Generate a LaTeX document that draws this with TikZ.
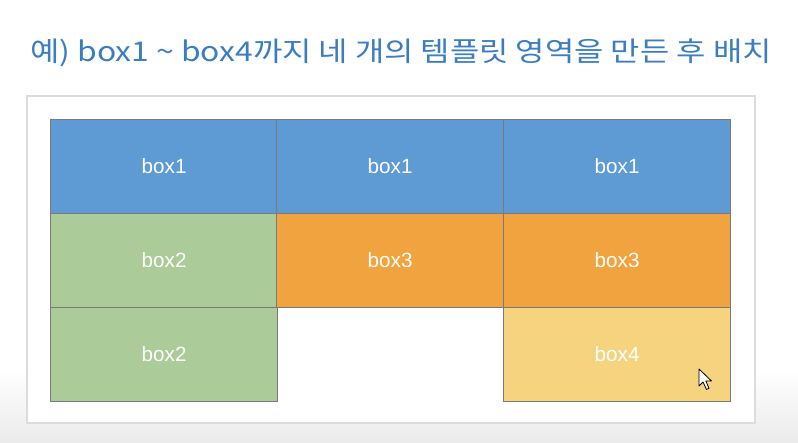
\documentclass[tikz,border=0pt]{standalone}
\usepackage{fontspec}
\setmainfont{Liberation Sans}
\newfontfamily\krfont{Noto Sans CJK KR}
\usetikzlibrary{positioning}
\definecolor{titleblue}{HTML}{3A7DC3}
\definecolor{cblue}{HTML}{5E9BD5}
\definecolor{cgreen}{HTML}{ABCB98}
\definecolor{corange}{HTML}{F0A33E}
\definecolor{cyellow}{HTML}{F6D47F}
\definecolor{cedge}{HTML}{7A7A7A}
\definecolor{frameedge}{HTML}{DCDCDC}
\begin{document}
\begin{tikzpicture}[x=0.75pt,y=-0.75pt,
  cell/.style={draw=cedge, line width=0.9pt, minimum width=170.25pt, minimum height=70.5pt, anchor=north west, inner sep=0pt, text=white, font=\fontsize{15.5}{18}\selectfont},
  frame/.style={draw=frameedge, line width=1.2pt, fill=white}]
\useasboundingbox (0,0) rectangle (798,442);
\shade[top color=white, bottom color=black!8] (0,370) rectangle (798,442);
\fill[white] (0,0) rectangle (798,370);
\node[anchor=base west, inner sep=0pt, text=titleblue] (title) at (30,62) {\resizebox*{556pt}{21pt}{\krfont\fontsize{22}{26}\selectfont 예) box1 \textasciitilde{} box4까지 네 개의 템플릿 영역을 만든 후 배치}};
\draw[frame] (27,96) rectangle (755,423);
\node[cell, fill=cblue] (b11) at (50,119) {box1};
\node[cell, fill=cblue] (b12) at (276,119) {box1};
\node[cell, fill=cblue] (b13) at (503,119) {box1};
\node[cell, fill=cgreen] (b21) at (50,213) {box2};
\node[cell, fill=corange] (b22) at (276,213) {box3};
\node[cell, fill=corange] (b23) at (503,213) {box3};
\node[cell, fill=cgreen] (b31) at (50,307) {box2};
\node[cell, fill=cyellow] (b33) at (503,307) {box4};
\draw[fill=white, draw=black, line width=0.6pt, line join=round]
  (699,369) -- (699,386) -- (703,382) -- (706.5,389.5) -- (709,388.3) -- (705.8,381) -- (711.5,381) -- cycle;
\end{tikzpicture}
\end{document}
